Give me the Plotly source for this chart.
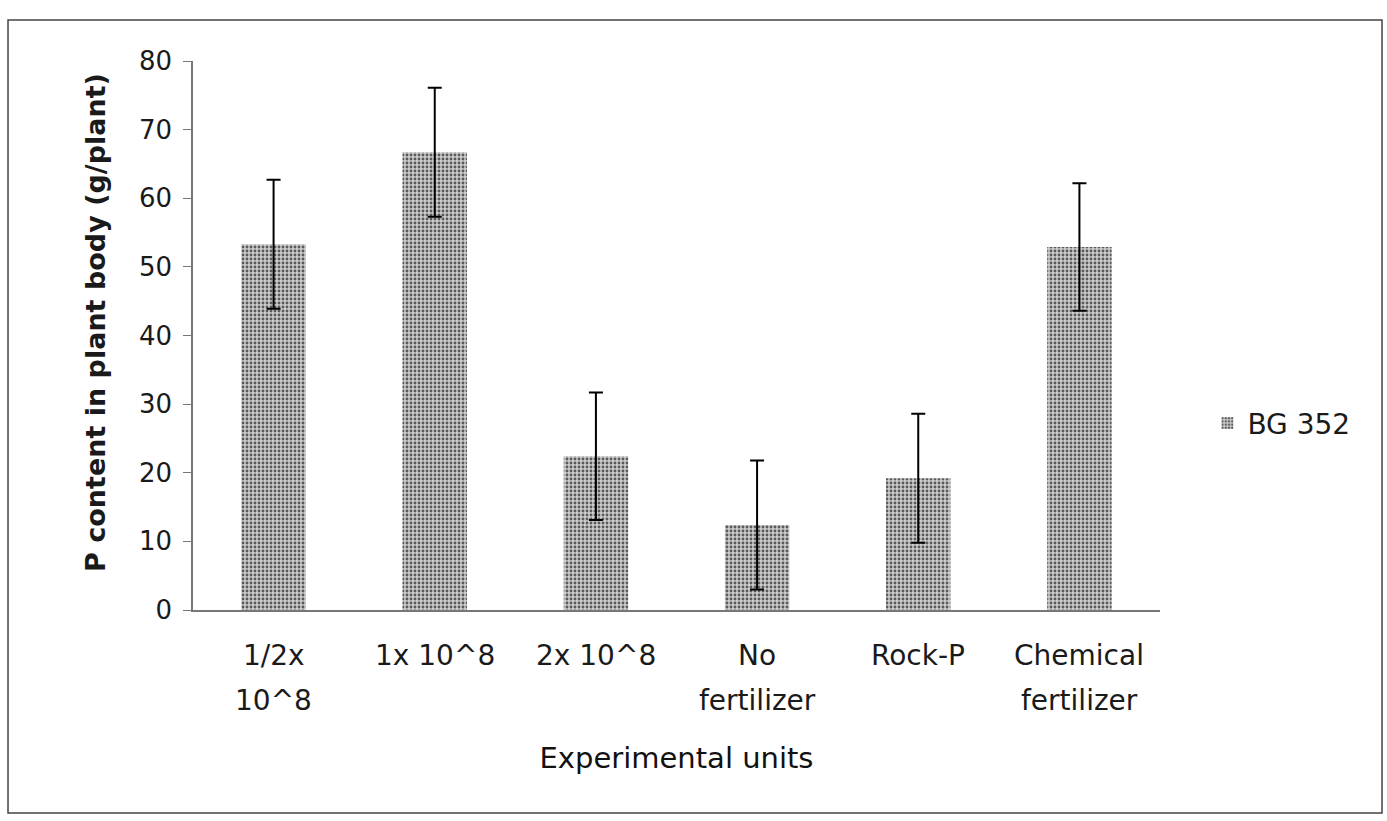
import plotly.graph_objects as go

# Treatments, mean P content and standard error
categories = ["1/2x 10^8", "1x 10^8", "2x 10^8", "No fertilizer", "Rock-P", "Chemical fertilizer"]
label_line1 = ["1/2x", "1x 10^8", "2x 10^8", "No", "Rock-P", "Chemical"]
label_line2 = ["10^8", "", "", "fertilizer", "", "fertilizer"]
p_content = [53.3, 66.7, 22.4, 12.4, 19.2, 52.9]
std_err = [9.4, 9.4, 9.3, 9.4, 9.4, 9.3]
series_name = "BG 352"
y_ticks = [0, 10, 20, 30, 40, 50, 60, 70, 80]

FONT = "DejaVu Sans"
INK = "#1a1a1a"

fig = go.Figure()
fig.add_trace(go.Bar(
    x=categories,
    y=p_content,
    name=series_name,
    width=0.4,
    marker=dict(
        color="#a8a8a8",
        line=dict(width=0),
        pattern=dict(shape=".", fgcolor="#5a5a5a", bgcolor="#cdcdcd",
                     size=4, solidity=0.4, fillmode="replace"),
    ),
    error_y=dict(type="data", array=std_err, visible=True,
                 color="black", thickness=2, width=7),
))

# Two-line category labels under the axis
for cat, l1, l2 in zip(categories, label_line1, label_line2):
    fig.add_annotation(x=cat, y=0, xref="x", yref="paper", text=l1,
                       showarrow=False, yanchor="top", yshift=-27,
                       font=dict(family=FONT, size=28, color=INK))
    if l2:
        fig.add_annotation(x=cat, y=0, xref="x", yref="paper", text=l2,
                           showarrow=False, yanchor="top", yshift=-72,
                           font=dict(family=FONT, size=28, color=INK))

# Vertical axis title
fig.add_annotation(x=-0.1003, y=0.5228, xref="paper", yref="paper",
                   text="<b>P content in plant body (g/plant)</b>",
                   textangle=-90, showarrow=False,
                   xanchor="center", yanchor="middle",
                   font=dict(family=FONT, size=27, color=INK))

# Outer chart border
fig.add_shape(type="rect", xref="paper", yref="paper",
              x0=-0.1913, x1=1.2296, y0=-0.3698, y1=1.0747,
              line=dict(color="#444", width=1.5))

fig.update_layout(
    width=1387, height=821,
    margin=dict(l=193, r=227, t=61, b=211),
    paper_bgcolor="white", plot_bgcolor="white",
    font=dict(family=FONT, size=28, color=INK),
    showlegend=True,
    legend=dict(x=1.049, y=0.34, xanchor="left", yanchor="middle",
                font=dict(family=FONT, size=28, color=INK),
                bgcolor="rgba(0,0,0,0)", itemwidth=30),
    xaxis=dict(showticklabels=False, showline=True, linecolor="#777",
               linewidth=1.5, ticks="", showgrid=False,
               title=dict(text="Experimental units", standoff=137,
                          font=dict(family=FONT, size=29, color="#111"))),
    yaxis=dict(range=[0, 80], tickvals=y_ticks, showline=True,
               linecolor="#777", linewidth=1.5, ticks="outside",
               ticklen=8, tickcolor="#777", showgrid=False, zeroline=False,
               tickfont=dict(family=FONT, size=26, color=INK),
               ticklabelstandoff=6),
)

fig.write_html("out.html")
